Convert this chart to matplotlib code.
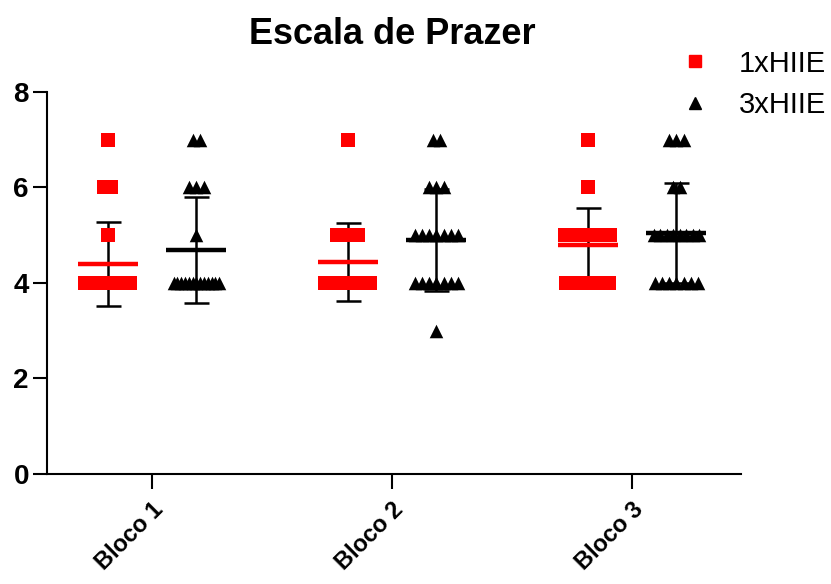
import numpy as np
import matplotlib
matplotlib.use("Agg")
import matplotlib.pyplot as plt

plt.rcParams['font.family'] = ['Liberation Sans', 'DejaVu Sans']

categories = ["Bloco 1", "Bloco 2", "Bloco 3"]
series_names = ["1xHIIE", "3xHIIE"]

# individual scores per block
hiie1_b1 = [7, 6, 6, 5] + [4] * 16
hiie1_b2 = [7] + [5] * 4 + [4] * 11
hiie1_b3 = [7, 6] + [5] * 10 + [4] * 7
hiie3_b1 = [7] * 2 + [6] * 3 + [5] + [4] * 13
hiie3_b2 = [7] * 2 + [6] * 3 + [5] * 7 + [4] * 7 + [3]
hiie3_b3 = [7] * 3 + [6] * 2 + [5] * 8 + [4] * 7

data = {
    "1xHIIE": [hiie1_b1, hiie1_b2, hiie1_b3],
    "3xHIIE": [hiie3_b1, hiie3_b2, hiie3_b3],
}

colors = {"1xHIIE": "#ff0000", "3xHIIE": "#000000"}
markers = {"1xHIIE": "s", "3xHIIE": "^"}
offsets = {"1xHIIE": -0.185, "3xHIIE": 0.185}

fig = plt.figure(figsize=(8.31, 5.84), dpi=100)
ax = fig.add_axes([0.0566, 0.1884, 0.8351, 0.6541])

step = 0.03
maxw = 0.19
for name in series_names:
    for gi, vals in enumerate(data[name]):
        cx = gi + offsets[name]
        vals = np.array(vals, dtype=float)
        xs, ys = [], []
        for v in np.unique(vals):
            c = int(np.sum(vals == v))
            if c > 1:
                sp = min(step, maxw / (c - 1))
                offs = (np.arange(c) - (c - 1) / 2) * sp
            else:
                offs = np.array([0.0])
            xs.extend(cx + offs)
            ys.extend([v] * c)
        ax.scatter(xs, ys, marker=markers[name], s=95, color=colors[name],
                   linewidths=0, zorder=3)
        m = vals.mean()
        sd = vals.std(ddof=1)
        ax.plot([cx - 0.125, cx + 0.125], [m, m], color=colors[name], lw=3.2,
                solid_capstyle='butt', zorder=4)
        ax.errorbar([cx], [m], yerr=[sd], fmt='none', ecolor='black',
                    elinewidth=1.8, capsize=9, capthick=1.8, zorder=2)

ax.set_xlim(-0.4375, 2.454)
ax.set_ylim(0, 8)
ax.set_yticks([0, 2, 4, 6, 8])
ax.set_xticks([0, 1, 2])
ax.set_xticklabels(categories, rotation=45, ha='right', rotation_mode='anchor',
                   fontsize=17, fontweight='bold')
ax.tick_params(axis='y', labelsize=20, width=1.5, length=10, pad=3)
ax.tick_params(axis='x', width=1.5, length=11, pad=6)
for lab in ax.get_yticklabels():
    lab.set_fontweight('bold')
for s in ['top', 'right']:
    ax.spines[s].set_visible(False)
for s in ['left', 'bottom']:
    ax.spines[s].set_linewidth(1.5)

fig.text(0.4725, 0.925, "Escala de Prazer", fontsize=26, fontweight='bold',
         ha='center', va='baseline')

handles = [plt.Line2D([], [], ls='none', marker=markers[n], color=colors[n],
                      markersize=8) for n in series_names]
fig.legend(handles, series_names, loc='upper left', bbox_to_anchor=(0.787, 0.96),
           frameon=False, fontsize=21, handletextpad=1.0, labelspacing=0.45,
           handlelength=1.0)

fig.savefig("out.png", dpi=100)
